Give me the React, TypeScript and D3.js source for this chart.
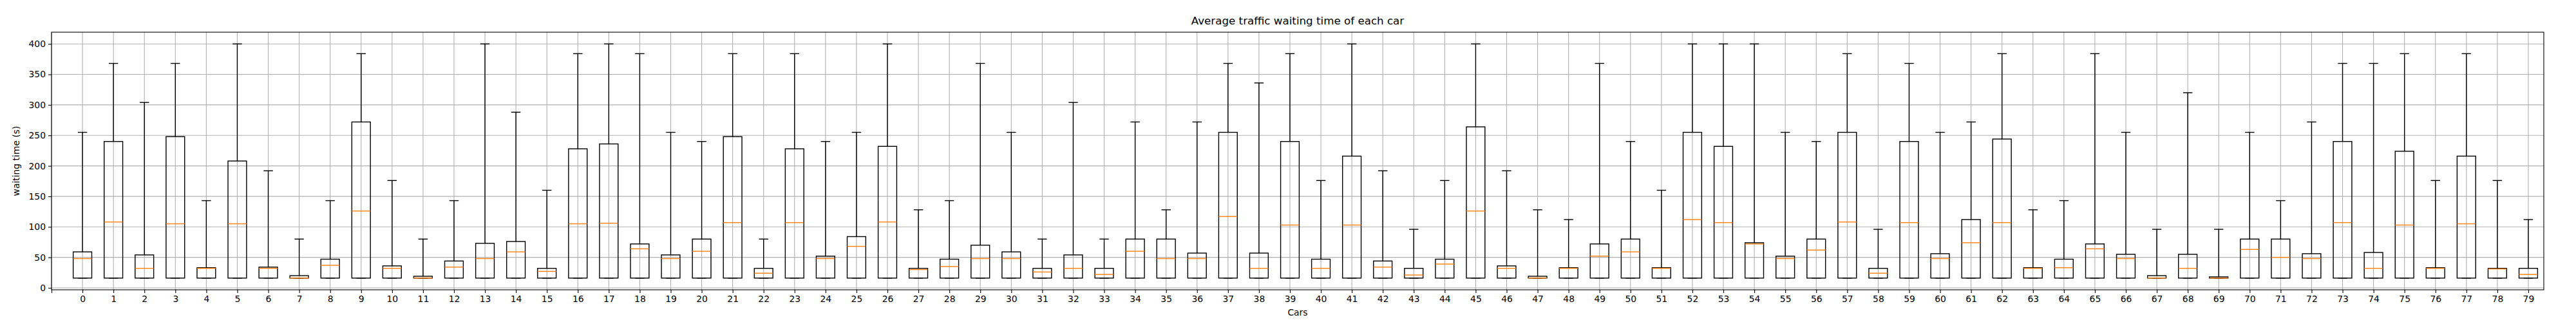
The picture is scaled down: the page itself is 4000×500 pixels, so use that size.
import React, { useEffect, useRef } from "react";
import * as d3 from "d3";

// upper whisker, third quartile and median per car; q1 and lower whisker sit at 16
const whiskerHigh = [
  255, 368, 304, 368, 143, 400, 192, 80, 143, 384,
  176, 80, 143, 400, 288, 160, 384, 400, 384, 255,
  240, 384, 80, 384, 240, 255, 400, 128, 143, 368,
  255, 80, 304, 80, 272, 128, 272, 368, 336, 384,
  176, 400, 192, 96, 176, 400, 192, 128, 112, 368,
  240, 160, 400, 400, 400, 255, 240, 384, 96, 368,
  255, 272, 384, 128, 143, 384, 255, 96, 320, 96,
  255, 143, 272, 368, 368, 384, 176, 384, 176, 112,
];
const q3 = [
  59, 240, 54, 248, 33, 208, 34, 20, 47, 272,
  36, 19, 44, 73, 76, 32, 228, 236, 72, 54,
  80, 248, 32, 228, 52, 84, 232, 32, 47, 70,
  59, 32, 54, 32, 80, 80, 57, 255, 57, 240,
  47, 216, 44, 32, 47, 264, 36, 19, 33, 72,
  80, 33, 255, 232, 74, 52, 80, 255, 32, 240,
  56, 112, 244, 33, 47, 72, 55, 20, 55, 18,
  80, 80, 56, 240, 58, 224, 33, 216, 32, 32,
];
const median = [
  48, 108, 32, 105, 32, 105, 32, 16, 37, 126,
  32, 16, 34, 48, 59, 27, 105, 106, 64, 48,
  60, 107, 24, 107, 48, 68, 108, 30, 35, 48,
  48, 26, 32, 22, 60, 48, 48, 117, 32, 103,
  32, 103, 34, 21, 39, 126, 32, 16, 32, 52,
  59, 32, 112, 107, 72, 48, 62, 108, 24, 107,
  48, 74, 107, 32, 33, 64, 48, 16, 32, 16,
  63, 50, 48, 107, 32, 103, 32, 105, 31, 22,
];
const lowValue = 16;
const yTicks = [0, 50, 100, 150, 200, 250, 300, 350, 400];

export default function App() {
  const svgRef = useRef<SVGSVGElement>(null);
  const W = 4000;
  const H = 500;
  const margin = { top: 50, right: 50, bottom: 50, left: 80 };

  useEffect(() => {
    const svg = d3.select(svgRef.current);
    svg.selectAll("*").remove();
    const font = "DejaVu Sans, sans-serif";

    const x = d3.scaleLinear().domain([-1, 79.5]).range([margin.left, W - margin.right]);
    const y = d3.scaleLinear().domain([-3.2, 419.2]).range([H - margin.bottom, margin.top]);
    const idx = d3.range(80);
    const xTicks = d3.range(-1, 80);

    svg.append("rect").attr("width", W).attr("height", H).attr("fill", "white");

    // grid
    const grid = svg.append("g").attr("stroke", "#b0b0b0").attr("stroke-width", 1.1);
    xTicks.forEach((t) =>
      grid.append("line").attr("x1", x(t)).attr("x2", x(t)).attr("y1", margin.top).attr("y2", H - margin.bottom)
    );
    yTicks.forEach((t) =>
      grid.append("line").attr("x1", margin.left).attr("x2", W - margin.right).attr("y1", y(t)).attr("y2", y(t))
    );

    const boxW = 0.6 * (x(1) - x(0));
    const capW = 0.3 * (x(1) - x(0));
    const g = svg.append("g").attr("stroke", "black").attr("stroke-width", 1.4).attr("fill", "none");
    idx.forEach((i) => {
      const cx = x(i);
      g.append("line").attr("x1", cx).attr("x2", cx).attr("y1", y(q3[i])).attr("y2", y(whiskerHigh[i]));
      g.append("line").attr("x1", cx - capW / 2).attr("x2", cx + capW / 2).attr("y1", y(whiskerHigh[i])).attr("y2", y(whiskerHigh[i]));
      g.append("line").attr("x1", cx - capW / 2).attr("x2", cx + capW / 2).attr("y1", y(lowValue)).attr("y2", y(lowValue));
      g.append("rect")
        .attr("x", cx - boxW / 2)
        .attr("width", boxW)
        .attr("y", y(q3[i]))
        .attr("height", y(lowValue) - y(q3[i]));
      g.append("line")
        .attr("x1", cx - boxW / 2)
        .attr("x2", cx + boxW / 2)
        .attr("y1", y(median[i]))
        .attr("y2", y(median[i]))
        .attr("stroke", "#ff7f0e");
    });

    // frame
    svg.append("rect")
      .attr("x", margin.left).attr("y", margin.top)
      .attr("width", W - margin.left - margin.right).attr("height", H - margin.top - margin.bottom)
      .attr("fill", "none").attr("stroke", "black").attr("stroke-width", 1.1);

    const xAxis = svg.append("g")
      .attr("transform", `translate(0,${H - margin.bottom})`)
      .call(d3.axisBottom(x).tickValues(xTicks).tickSize(5).tickPadding(4).tickFormat((d) => (+d < 0 ? "" : String(d))));
    const yAxis = svg.append("g")
      .attr("transform", `translate(${margin.left},0)`)
      .call(d3.axisLeft(y).tickValues(yTicks).tickSize(5).tickPadding(4));
    [xAxis, yAxis].forEach((a) => {
      a.select(".domain").remove();
      a.selectAll("text").attr("font-family", font).attr("font-size", 13.9).attr("fill", "black");
      a.selectAll("line").attr("stroke", "black").attr("stroke-width", 1.1);
    });

    svg.append("text").attr("x", (margin.left + W - margin.right) / 2).attr("y", 38)
      .attr("text-anchor", "middle").attr("font-family", font).attr("font-size", 16.7).text("Average traffic waiting time of each car");
    svg.append("text").attr("x", (margin.left + W - margin.right) / 2).attr("y", 490)
      .attr("text-anchor", "middle").attr("font-family", font).attr("font-size", 13.9).text("Cars");
    svg.append("text").attr("transform", `translate(30,${(margin.top + H - margin.bottom) / 2}) rotate(-90)`)
      .attr("text-anchor", "middle").attr("font-family", font).attr("font-size", 13.9).text("waiting time (s)");
  }, []);

  return <svg ref={svgRef} width={W} height={H} style={{ display: "block", margin: "-8px" }} />;
}
